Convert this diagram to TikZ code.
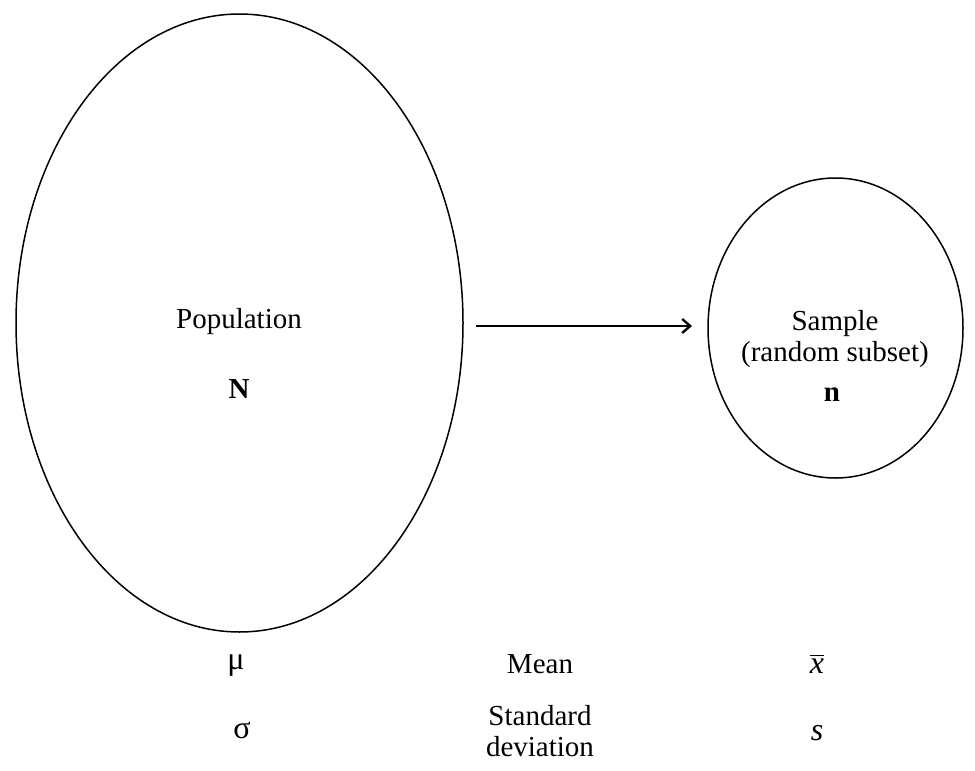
\documentclass[tikz,border=0pt]{standalone}
\usepackage{fontspec}
\setmainfont{Liberation Serif}
\usetikzlibrary{arrows.meta}
\begin{document}
\begin{tikzpicture}[x=0.5pt,y=-0.5pt,
  lbl/.style={font=\fontsize{14.5}{15.5}\selectfont, inner sep=0pt, align=center},
  sym/.style={font=\fontsize{16}{17}\selectfont, inner sep=0pt},
  ring/.style={draw, line width=0.75pt}]
\useasboundingbox (0,0) rectangle (975,771);
\draw[ring] (239.5,323) ellipse [x radius=223.5, y radius=309];
\draw[ring] (835.5,328) ellipse [x radius=127.5, y radius=150];
\coordinate (popR) at (476,326);
\coordinate (samL) at (692,326);
\node[lbl] (pop) at (239,322) {Population};
\node[lbl, font=\fontsize{14.5}{16}\selectfont\bfseries] (N) at (239,389) {N};
\node[lbl] (sam) at (835,339) {Sample\\(random subset)};
\node[lbl, font=\fontsize{14.5}{16}\selectfont\bfseries] (n) at (832,395) {n};
\draw[line width=0.9pt, -{Straight Barb[length=4pt,width=7pt,line width=1.2pt]}] (popR) -- (samL);
\node[sym] (mu) at (236,666) {μ};
\node[lbl] (mean) at (540,664) {Mean};
\node[sym] (xbar) at (817,664) {$\overline{\mbox{\itshape x}}$};
\node[sym] (sigma) at (242,730) {σ};
\node[lbl] (sd) at (540,731) {Standard\\deviation};
\node[sym] (s) at (817,733) {\itshape s};
\end{tikzpicture}
\end{document}
